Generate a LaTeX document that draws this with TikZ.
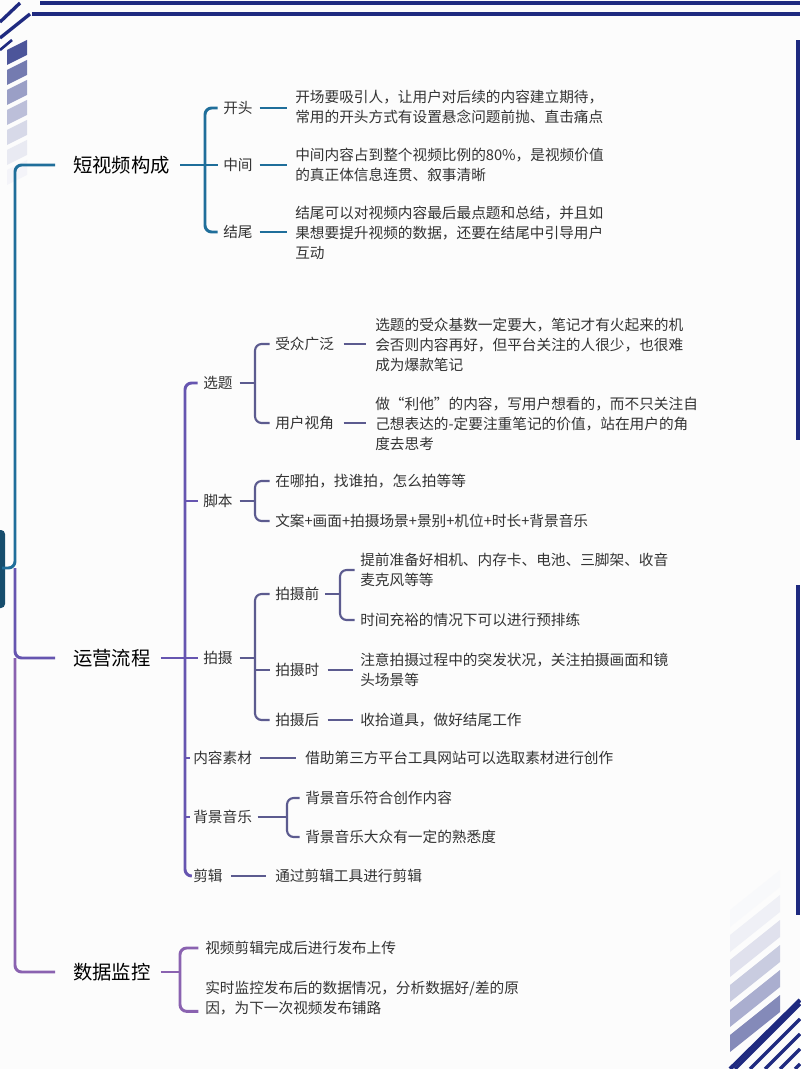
\documentclass[tikz,border=0pt]{standalone}
\usepackage{fontspec}
\setmainfont{Noto Sans CJK SC}
\begin{document}
\definecolor{navy}{HTML}{1F2A80}
\definecolor{teal}{HTML}{1F6E9A}
\definecolor{purp}{HTML}{6655B0}
\definecolor{slate}{HTML}{5C5B8F}
\definecolor{mauve}{HTML}{8A62B0}
\definecolor{txt}{HTML}{333333}
\begin{tikzpicture}[x=0.75pt,y=-0.75pt,
  main/.style={anchor=west,inner sep=0pt,font=\fontsize{14.5}{18}\selectfont,text=black},
  lab/.style={anchor=west,inner sep=0pt,font=\fontsize{11}{15}\selectfont,text=txt,align=left},
  ln/.style={line width=2.2pt,rounded corners=5pt},
  thin/.style={line width=1.6pt,rounded corners=5pt}]
\useasboundingbox (0,0) rectangle (800,1069);
\fill[white!98!gray] (0,0) rectangle (800,1069);
% decorations
\draw[navy,line width=2.5pt] (40,3) -- (800,3);
\draw[navy,line width=2.5pt] (32,14) -- (800,14);
\draw[navy,line width=2.5pt] (0,22) -- (20,3);
\draw[navy,line width=2.5pt] (0,38) -- (30,14);
\draw[navy,line width=2pt] (0,50) -- (12,40);
\foreach \i/\c in {0/80,1/62,2/45,3/30,4/18,5/10,6/5}
  \fill[navy!\c] (7,50+\i*20) -- (27,40+\i*20) -- (27,55+\i*20) -- (7,65+\i*20) -- cycle;
\fill[navy] (796,40) rectangle (800,440);
\fill[navy] (796,585) rectangle (800,915);
\foreach \i/\c in {0/55,1/38,2/24,3/14,4/7,5/3}
  \fill[navy!\c] (730,1035-\i*25) -- (780,995-\i*25) -- (780,1012-\i*25) -- (730,1052-\i*25) -- cycle;
\foreach \i in {0,1,2,3,4,5}
  \draw[navy,line width=2.5pt] (735+\i*15,1069) -- (800,1069-65+\i*15);
\draw[navy,line width=3pt] (730,1069) -- (800,1000);
% root
\fill[teal!70!black,rounded corners=3pt] (-10,530) rectangle (5,608);
\node[inner sep=0pt] (root) at (2,568) {};
% main spine
\node[main] (b1) at (73,165) {短视频构成};
\node[main] (b2) at (73,658) {运营流程};
\node[main] (b3) at (73,972) {数据监控};
\coordinate (sp) at (15,568);
\draw[teal,ln] (root.center) -- (sp) -- (15,165) -- (55,165);
\draw[purp,ln] (15,568) -- (15,658) -- (55,658);
\draw[mauve,ln] (15,658) -- (15,972) -- (55,972);
% branch 1
\coordinate (x1) at (205,0);
\node[lab] (k1) at (223,108) {开头};
\node[lab] (k2) at (223,165) {中间};
\node[lab] (k3) at (223,232) {结尾};
\node[lab] (t1) at (295,107) {开场要吸引人，让用户对后续的内容建立期待，\\常用的开头方式有设置悬念问题前抛、直击痛点};
\node[lab] (t2) at (295,165) {中间内容占到整个视频比例的80\%，是视频价值\\的真正体信息连贯、叙事清晰};
\node[lab] (t3) at (295,233) {结尾可以对视频内容最后最点题和总结，并且如\\果想要提升视频的数据，还要在结尾中引导用户\\互动};
\draw[teal,ln] (b1.east)++(10,0) -- (b1.east -| x1);
\draw[teal,ln] ([xshift=-4]k1.west) -- (k1.west -| x1) -- (k3.west -| x1) -- ([xshift=-4]k3.west);
\draw[teal,ln] (k2.west -| x1) -- ([xshift=-4]k2.west);
\foreach \a/\b in {k1/t1,k2/t2,k3/t3} \draw[teal,line width=1.6pt] ([xshift=5]\a.east) -- ([xshift=-6]\a.east -| \b.west);
% branch 2
\coordinate (x2) at (185,0);
\node[lab] (s1) at (203,383) {选题};
\node[lab] (s2) at (203,501) {脚本};
\node[lab] (s3) at (203,658) {拍摄};
\node[lab] (s4) at (193,758) {内容素材};
\node[lab] (s5) at (193,817) {背景音乐};
\node[lab] (s6) at (193,876) {剪辑};
\draw[purp,ln] (b2.east)++(10,0) -- (b2.east -| x2);
\draw[purp,ln] ([xshift=-4]s1.west) -- (s1.west -| x2) -- (s6.west -| x2) -- ([xshift=-2]s6.west);
\foreach \s in {s2,s3} \draw[purp,ln] (\s.west -| x2) -- ([xshift=-4]\s.west);
\foreach \s in {s4,s5} \draw[purp,ln] (\s.west -| x2) -- ([xshift=-2]\s.west);
% 选题
\coordinate (x3) at (255,0);
\node[lab] (u1) at (275,344) {受众广泛};
\node[lab] (u2) at (275,423) {用户视角};
\node[lab] (v1) at (375,345) {选题的受众基数一定要大，笔记才有火起来的机\\会否则内容再好，但平台关注的人很少，也很难\\成为爆款笔记};
\node[lab] (v2) at (375,424) {做“利他”的内容，写用户想看的，而不只关注自\\己想表达的-定要注重笔记的价值，站在用户的角\\度去思考};
\draw[slate,thin] ([xshift=5]s1.east) -- (s1.east -| x3);
\draw[slate,thin] ([xshift=-4]u1.west) -- (u1.west -| x3) -- (u2.west -| x3) -- ([xshift=-4]u2.west);
\foreach \a/\b in {u1/v1,u2/v2} \draw[slate,thin] ([xshift=7]\a.east) -- ([xshift=-7]\a.east -| \b.west);
% 脚本
\node[lab] (j1) at (275,481) {在哪拍，找谁拍，怎么拍等等};
\node[lab] (j2) at (275,521) {文案+画面+拍摄场景+景别+机位+时长+背景音乐};
\draw[slate,thin] ([xshift=5]s2.east) -- (s2.east -| x3);
\draw[slate,thin] ([xshift=-4]j1.west) -- (j1.west -| x3) -- (j2.west -| x3) -- ([xshift=-4]j2.west);
% 拍摄
\node[lab] (p1) at (275,594) {拍摄前};
\node[lab] (p2) at (275,670) {拍摄时};
\node[lab] (p3) at (275,720) {拍摄后};
\draw[slate,thin] ([xshift=5]s3.east) -- (s3.east -| x3);
\draw[slate,thin] ([xshift=-4]p1.west) -- (p1.west -| x3) -- (p3.west -| x3) -- ([xshift=-4]p3.west);
\draw[slate,thin] (p2.west -| x3) -- ([xshift=-4]p2.west);
\coordinate (x4) at (340,0);
\node[lab] (q1) at (360,570) {提前准备好相机、内存卡、电池、三脚架、收音\\麦克风等等};
\node[lab] (q2) at (360,620) {时间充裕的情况下可以进行预排练};
\node[lab] (q3) at (360,670) {注意拍摄过程中的突发状况，关注拍摄画面和镜\\头场景等};
\node[lab] (q4) at (360,720) {收拾道具，做好结尾工作};
\draw[slate,thin] ([xshift=4]p1.east) -- (p1.east -| x4);
\draw[slate,thin] ([xshift=-4]q1.west) -- (q1.west -| x4) -- (q2.west -| x4) -- ([xshift=-4]q2.west);
\draw[slate,thin] ([xshift=6]p2.east) -- ([xshift=-5]q3.west);
\draw[slate,thin] ([xshift=6]p3.east) -- ([xshift=-5]q4.west);
% 内容素材
\node[lab] (m1) at (305,758) {借助第三方平台工具网站可以选取素材进行创作};
\draw[slate,thin] ([xshift=6]s4.east) -- ([xshift=-7]m1.west);
% 背景音乐
\coordinate (x5) at (287,0);
\node[lab] (y1) at (305,798) {背景音乐符合创作内容};
\node[lab] (y2) at (305,837) {背景音乐大众有一定的熟悉度};
\draw[slate,thin] ([xshift=4]s5.east) -- (s5.east -| x5);
\draw[slate,thin] ([xshift=-4]y1.west) -- (y1.west -| x5) -- (y2.west -| x5) -- ([xshift=-4]y2.west);
% 剪辑
\node[lab] (e1) at (275,876) {通过剪辑工具进行剪辑};
\draw[slate,thin] ([xshift=6]s6.east) -- ([xshift=-7]e1.west);
% branch 3
\coordinate (x6) at (180,0);
\node[lab] (d1) at (205,948) {视频剪辑完成后进行发布上传};
\node[lab] (d2) at (205,998) {实时监控发布后的数据情况，分析数据好/差的原\\因，为下一次视频发布铺路};
\draw[mauve,ln] (b3.east)++(10,0) -- (b3.east -| x6);
\draw[mauve,ln] ([xshift=-5]d1.west) -- (d1.west -| x6) -- ([yshift=-10]d2.west -| x6) -- ([xshift=-5,yshift=-10]d2.west);
\end{tikzpicture}
\end{document}
